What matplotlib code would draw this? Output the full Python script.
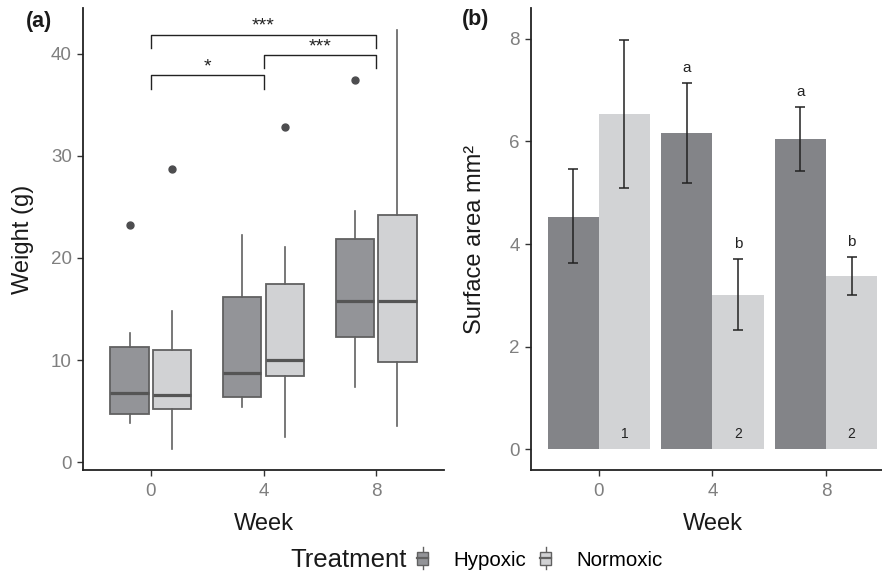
import numpy as np
import matplotlib
matplotlib.use("Agg")
import matplotlib.pyplot as plt
from matplotlib.patches import Rectangle, Patch
from matplotlib.lines import Line2D
from matplotlib.legend_handler import HandlerBase

plt.rcParams['font.family'] = ['Liberation Sans', 'DejaVu Sans']

weeks = ["0", "4", "8"]
treatments = ["Hypoxic", "Normoxic"]
box_fill = {"Hypoxic": "#939498", "Normoxic": "#d1d2d4"}
bar_fill = {"Hypoxic": "#838488", "Normoxic": "#d2d3d5"}

# panel (a) box stats: weight (g)
q1 = {"Hypoxic": [4.74, 6.37, 12.29], "Normoxic": [5.16, 8.46, 9.80]}
med = {"Hypoxic": [6.76, 8.73, 15.75], "Normoxic": [6.60, 9.97, 15.75]}
q3 = {"Hypoxic": [11.30, 16.15, 21.83], "Normoxic": [10.95, 17.45, 24.20]}
whislo = {"Hypoxic": [3.86, 5.39, 7.35], "Normoxic": [1.24, 2.42, 3.53]}
whishi = {"Hypoxic": [12.60, 22.30, 24.60], "Normoxic": [14.85, 21.10, 42.35]}
fliers = {"Hypoxic": [[23.2], [], [37.45]], "Normoxic": [[28.7], [32.8], []]}

# significance brackets: (from week idx, to week idx, height, label)
brackets = [(0, 1, 37.9, "*"), (1, 2, 39.9, "***"), (0, 2, 41.9, "***")]

# panel (b) surface area mm2, mean with error bar ends
area = {"Hypoxic": [4.53, 6.17, 6.05], "Normoxic": [6.54, 3.01, 3.38]}
area_lo = {"Hypoxic": [3.63, 5.19, 5.42], "Normoxic": [5.09, 2.32, 3.01]}
area_hi = {"Hypoxic": [5.46, 7.13, 6.67], "Normoxic": [7.98, 3.71, 3.75]}
letters = {"Hypoxic": ["", "a", "a"], "Normoxic": ["", "b", "b"]}
counts = ["1", "2", "2"]

W, H = 882, 575
fig = plt.figure(figsize=(W / 100, H / 100), dpi=100)

def axes_px(x0, y0, x1, y1):
    return fig.add_axes([x0 / W, 1 - y1 / H, (x1 - x0) / W, (y1 - y0) / H])

ax1 = axes_px(83, 8, 444, 470)
ax2 = axes_px(530.7, 8, 894.2, 470)

edge = "#616161"
tick_col = "#7f7f7f"
title_size = 17

def style(ax):
    for s in ["top", "right"]:
        ax.spines[s].set_visible(False)
    for s in ["left", "bottom"]:
        ax.spines[s].set_linewidth(1.3)
        ax.spines[s].set_color("#222222")
    ax.tick_params(axis="both", length=4, width=1, color="#333333",
                   labelsize=13.5, labelcolor=tick_col, pad=4)
    ax.tick_params(axis="x", pad=5.5)

x = np.arange(len(weeks))
offs = {"Hypoxic": -0.1875, "Normoxic": 0.1875}

# ---- (a) boxplots
for t in treatments:
    stats = []
    for i in range(len(weeks)):
        stats.append(dict(med=med[t][i], q1=q1[t][i], q3=q3[t][i],
                          whislo=whislo[t][i], whishi=whishi[t][i],
                          fliers=fliers[t][i]))
    ax1.bxp(stats, positions=x + offs[t], widths=0.3375, patch_artist=True,
            showcaps=False, manage_ticks=False,
            boxprops=dict(facecolor=box_fill[t], edgecolor=edge, linewidth=1.3),
            medianprops=dict(color="#555555", linewidth=2.3),
            whiskerprops=dict(color=edge, linewidth=1.2),
            flierprops=dict(marker="o", markersize=5, markerfacecolor="#4d4d4f",
                            markeredgecolor="#4d4d4f"))

for a, b, h, lab in brackets:
    ax1.plot([a, a, b, b], [h - 1.3, h, h, h - 1.3], color="#222222", lw=1.0)
    ax1.text((a + b) / 2, h + 0.35, lab, ha="center", va="baseline",
             fontsize=14, color="#222222")

ax1.set_xlim(-0.6, 2.6)
ax1.set_ylim(-0.78, 44.5)
ax1.set_xticks(x)
ax1.set_xticklabels(weeks)
ax1.set_yticks([0, 10, 20, 30, 40])
style(ax1)
ax1.set_xlabel("Week", fontsize=title_size, color="#1a1a1a", labelpad=9)
ax1.set_ylabel("Weight (g)", fontsize=title_size, color="#1a1a1a")
ax1.yaxis.set_label_coords((34 - 83) / 361, 0.5)

# ---- (b) bars
for t in treatments:
    pos = x + offs[t] * 1.2
    ax2.bar(pos, area[t], width=0.45, color=bar_fill[t])
    lo = np.array(area[t]) - np.array(area_lo[t])
    hi = np.array(area_hi[t]) - np.array(area[t])
    ax2.errorbar(pos, area[t], yerr=[lo, hi], fmt="none", ecolor="#222222",
                 elinewidth=1.1, capsize=3.3, capthick=1.1)
    for i, lab in enumerate(letters[t]):
        if lab:
            ax2.text(pos[i], area_hi[t][i] + 0.3, lab, ha="center", va="center",
                     fontsize=11, color="#222222")
for i, c in enumerate(counts):
    ax2.text(x[i] + offs["Normoxic"] * 1.2, 0.3, c, ha="center", va="center",
             fontsize=10, color="#222222")

ax2.set_xlim(-0.6, 2.6)
ax2.set_ylim(-0.4, 8.6)
ax2.set_xticks(x)
ax2.set_xticklabels(weeks)
ax2.set_yticks([0, 2, 4, 6, 8])
style(ax2)
ax2.set_xlabel("Week", fontsize=title_size, color="#1a1a1a", labelpad=9)
ax2.set_ylabel("Surface area mm²", fontsize=title_size, color="#1a1a1a")
ax2.yaxis.set_label_coords((486 - 530.7) / 363.5, 0.5)

fig.text(26 / W, 1 - 22 / H, "(a)", fontsize=15.5, fontweight="bold",
         ha="left", va="center", color="#1a1a1a")
fig.text(462 / W, 1 - 20 / H, "(b)", fontsize=15.5, fontweight="bold",
         ha="left", va="center", color="#1a1a1a")

# ---- legend with little boxplot keys
class BoxKey(HandlerBase):
    def create_artists(self, legend, orig_handle, xdescent, ydescent,
                       width, height, fontsize, trans):
        cx = -xdescent + width / 2
        y0 = -ydescent
        rect = Rectangle((-xdescent, y0), width, height,
                         facecolor=orig_handle.get_facecolor(),
                         edgecolor=edge, linewidth=1.0, transform=trans)
        whisk = Line2D([cx, cx], [y0 - height * 0.35, y0 + height * 1.35],
                       color=edge, lw=1.0, transform=trans)
        mid = Line2D([-xdescent, -xdescent + width], [y0 + height / 2] * 2,
                     color=edge, lw=1.6, transform=trans)
        return [whisk, rect, mid]

handles = [Patch(facecolor=box_fill[t]) for t in treatments]
fig.legend(handles, treatments, handler_map={Patch: BoxKey()},
           loc="center left", bbox_to_anchor=(417 / W, 1 - 560 / H), ncol=2,
           frameon=False, fontsize=14.8, handlelength=0.55, handleheight=0.6,
           handletextpad=1.2, columnspacing=0.7, borderpad=0, borderaxespad=0)
fig.text(290 / W, 1 - 560 / H, "Treatment", fontsize=18.5, ha="left",
         va="center", color="#1a1a1a")

fig.savefig("out.png", dpi=100)
